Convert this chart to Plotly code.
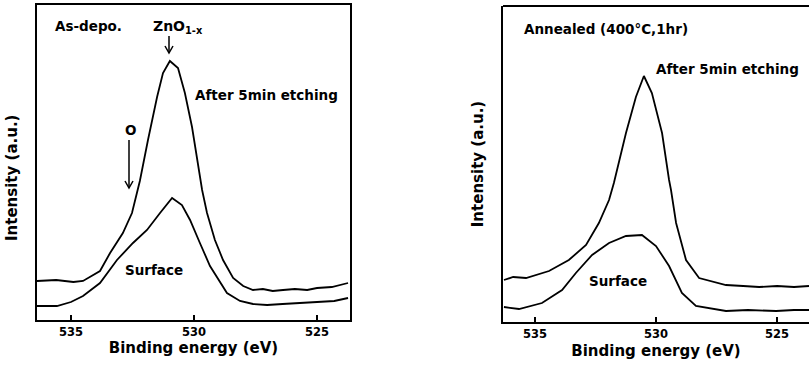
import plotly.graph_objects as go

# ---- Data ----
# Left panel: As-deposited
L_etch_e = [536.38, 535.60, 534.90, 534.51, 533.82, 533.41, 532.89, 532.52, 532.32, 532.20, 531.87,
            531.50, 531.26, 530.98, 530.65, 530.37, 530.08, 529.76, 529.67, 529.47, 529.15,
            528.82, 528.41, 528.00, 527.60, 527.20, 526.80, 526.38, 525.90, 525.40, 525.00, 524.40, 523.74]
L_etch_i = [39, 40, 38, 39, 49, 67, 87, 107, 127, 139, 180,
            223, 247, 259, 252, 227, 193, 140, 130, 107, 80,
            60, 42, 34, 30, 31, 29, 30, 31, 30, 32, 33, 37]
L_surf_e = [536.38, 535.57, 535.00, 534.51, 533.82, 533.13, 532.48, 531.91, 531.38, 530.89,
            530.49, 530.16, 529.76, 529.35, 528.66, 528.13, 527.60, 527.03, 526.40, 525.69, 525.00, 524.30, 523.74]
L_surf_i = [14, 14, 18, 24, 37, 60, 77, 90, 107, 122,
            115, 100, 77, 54, 27, 19, 16, 15, 16, 17, 18, 19, 22]

# Right panel: Annealed
R_etch_e = [536.28, 535.90, 535.37, 534.42, 533.60, 532.89, 532.36, 531.94, 531.74, 531.24, 530.83,
            530.50, 530.17, 529.75, 529.46, 529.38, 529.17, 528.76, 528.22, 527.60, 527.11,
            526.40, 525.74, 525.00, 524.30, 523.68]
R_etch_i = [42, 45, 44, 51, 62, 77, 99, 122, 139, 189, 225,
            246, 229, 189, 142, 132, 99, 62, 44, 40, 37,
            36, 35, 36, 35, 36]
R_surf_e = [536.28, 535.66, 534.71, 533.88, 533.31, 532.64, 531.94, 531.24, 530.58, 530.00,
            529.46, 528.93, 528.35, 527.70, 527.11, 526.20, 525.04, 524.30, 523.68]
R_surf_i = [15, 13, 19, 32, 49, 67, 79, 86, 87, 76,
            56, 29, 16, 13, 11, 12, 11, 12, 12]

x_ticks = [535, 530, 525]
x_tick_text = ["535", "530", "525"]

W, H = 809, 366
FONT = "DejaVu Sans"
line = dict(color="black", width=1.8)

fig = go.Figure()
fig.add_trace(go.Scatter(x=L_etch_e, y=L_etch_i, mode="lines", line=line, xaxis="x", yaxis="y", showlegend=False))
fig.add_trace(go.Scatter(x=L_surf_e, y=L_surf_i, mode="lines", line=line, xaxis="x", yaxis="y", showlegend=False))
fig.add_trace(go.Scatter(x=R_etch_e, y=R_etch_i, mode="lines", line=line, xaxis="x2", yaxis="y2", showlegend=False))
fig.add_trace(go.Scatter(x=R_surf_e, y=R_surf_i, mode="lines", line=line, xaxis="x2", yaxis="y2", showlegend=False))

def px(x):
    return x / W

def py(y):
    return 1 - y / H

bold = lambda s: dict(family=FONT, size=s, color="black", weight="bold")

axis_common = dict(showgrid=False, zeroline=False, ticks="inside", ticklen=5, tickwidth=1.5,
                   tickcolor="black", showline=True, linecolor="black", linewidth=2,
                   tickfont=bold(11.5))

fig.update_layout(
    width=W, height=H,
    margin=dict(l=0, r=0, t=0, b=0),
    paper_bgcolor="white", plot_bgcolor="white",
    xaxis=dict(domain=[px(37), px(350)], range=[536.38, 523.66], tickvals=x_ticks, ticktext=x_tick_text,
               mirror=True, anchor="y",
               title=dict(text="Binding energy (eV)", font=bold(15), standoff=4), **axis_common),
    yaxis=dict(domain=[py(320), py(5)], range=[0, 315], showticklabels=False, anchor="x",
               showgrid=False, zeroline=False, showline=True, linecolor="black", linewidth=2, mirror=True, ticks=""),
    xaxis2=dict(domain=[px(503), 1.0], range=[536.32, 523.68], tickvals=x_ticks, ticktext=x_tick_text,
                anchor="y2", mirror=False,
                title=dict(text="Binding energy (eV)", font=bold(15), standoff=6), **axis_common),
    yaxis2=dict(domain=[py(322), py(6)], range=[0, 316], showticklabels=False, anchor="x2",
                title=dict(text="Intensity (a.u.)", font=bold(15), standoff=14),
                showgrid=False, zeroline=False, showline=True, linecolor="black", linewidth=2, ticks=""),
)
# top border for right panel
fig.add_shape(type="line", xref="x2 domain", yref="y2 domain", x0=0, x1=1, y0=1, y1=1,
              line=dict(color="black", width=2))

def label(text, x, y, size=14, angle=0, xanchor="center"):
    fig.add_annotation(text=text, x=px(x), y=py(y), xref="paper", yref="paper", showarrow=False,
                       font=bold(size), textangle=angle, xanchor=xanchor, yanchor="middle")

# Left panel texts
label("As-depo.", 53, 26, size=13.5, xanchor="left")
label("ZnO<sub>1-x</sub>", 178, 27, size=14)
label("After 5min etching", 193, 95, size=13.5, xanchor="left")
label("O", 130, 130, size=13.5)
label("Surface", 154, 270, size=13.5)
label("Intensity (a.u.)", 12, 178, size=15, angle=-90)

# Right panel texts
label("Annealed (400°C,1hr)", 522, 29, size=13.5, xanchor="left")
label("After 5min etching", 654, 69, size=13.5, xanchor="left")
label("Surface", 618, 281, size=13.5)

# Arrows drawn as shapes (pixel positions converted to paper)
def arrow(x, y0, y1):
    lw = dict(color="black", width=1.5)
    fig.add_shape(type="line", xref="paper", yref="paper", x0=px(x), x1=px(x), y0=py(y0), y1=py(y1), line=lw)
    fig.add_shape(type="path", xref="paper", yref="paper",
                  path=f"M {px(x-4)} {py(y1-7)} L {px(x)} {py(y1)} L {px(x+4)} {py(y1-7)}", line=lw)

arrow(169, 36, 53)
arrow(129, 140, 188)

fig.write_html("out.html")
